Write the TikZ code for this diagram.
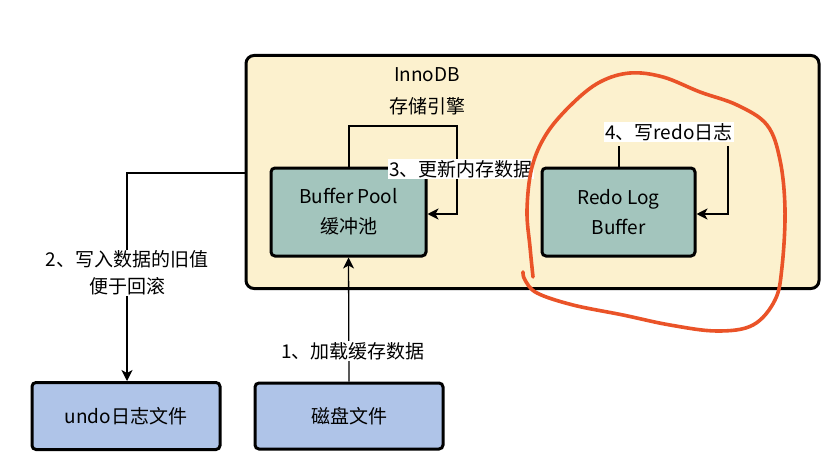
\documentclass[tikz,border=0pt]{standalone}
\usepackage{fontspec}
\setmainfont{Noto Sans CJK SC}
\usetikzlibrary{arrows.meta}
\definecolor{cont}{HTML}{FCF1CE}
\definecolor{teal}{HTML}{A3C5BD}
\definecolor{blu}{HTML}{AFC4E8}
\definecolor{redink}{HTML}{EA5328}
\tikzset{
  box/.style={draw=black, line width=3pt, rounded corners=4pt, inner sep=0pt, align=center, font=\fontsize{19}{30}\selectfont},
  lbl/.style={fill=white, inner sep=1pt, align=center, font=\fontsize{19}{27}\selectfont},
  plain/.style={inner sep=0pt, align=center, font=\fontsize{19}{32}\selectfont},
  conn/.style={draw=black, line width=1.3pt},
  arr/.style={conn, -{Stealth[length=11pt,width=11pt,inset=3pt]}}
}
\begin{document}
\begin{tikzpicture}[x=1pt,y=-1pt]
\useasboundingbox (0,0) rectangle (840,468);
% container
\node[box, fill=cont, minimum width=573pt, minimum height=233pt, rounded corners=8pt] (innodb) at (532.5,172) {};
\node[plain] (title) at (427,91) {InnoDB\\存储引擎};
% boxes
\node[box, fill=teal, minimum width=155pt, minimum height=88pt] (bp) at (348.5,212) {Buffer Pool\\缓冲池};
\node[box, fill=teal, minimum width=153pt, minimum height=88pt] (rl) at (618.5,212) {Redo Log\\Buffer};
\node[box, fill=blu, minimum width=188pt, minimum height=67pt] (undo) at (126,416) {undo日志文件};
\node[box, fill=blu, minimum width=188pt, minimum height=66pt] (disk) at (349,416) {磁盘文件};
% connectors
\coordinate (c2) at (127,173);
\draw[arr] (innodb.west |- c2) -- (c2) -- (c2 |- undo.north);
\node[lbl] (l2) at (127,273) {2、写入数据的旧值\\便于回滚};
\draw[arr] (disk.north) -- (bp.south);
\node[lbl] (l1) at (353,351) {1、加载缓存数据};
% loop 3
\coordinate (t3a) at (349,126);
\coordinate (t3b) at (457,126);
\draw[arr] (bp.north -| t3a) -- (t3a) -- (t3b) -- (t3b |- 0,214) -- (bp.east |- 0,214);
\node[lbl] (l3) at (461,169) {3、更新内存数据};
% loop 4
\node[lbl] (l4) at (669,132) {4、写redo日志};
\coordinate (t4a) at (619,146);
\coordinate (t4b) at (728,146);
\draw[conn] (rl.north -| t4a) -- (t4a);
\draw[arr] (t4b) -- (t4b |- 0,214) -- (rl.east |- 0,214);
% red hand-drawn loop
\draw[redink, line width=3.6pt, line cap=round, line join=round] plot[smooth, tension=0.6] coordinates {
 (533,277) (530,247) (527,210) (532,167) (547,133) (573,103) (600,82) (630,73) (663,77)
 (700,92) (737,105) (767,125) (780,160) (785,210) (782,267) (775,300) (753,325) (717,331)
 (670,325) (623,315) (573,305) (537,293) (525,280) (523,272)};
\end{tikzpicture}
\end{document}
